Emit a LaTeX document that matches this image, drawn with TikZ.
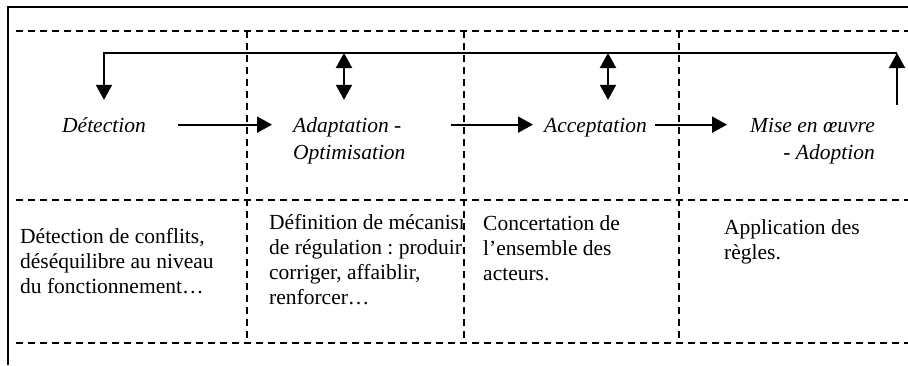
\documentclass[tikz,border=0pt]{standalone}
\usepackage{fontspec}
\setmainfont{Liberation Serif}
\frenchspacing
\usetikzlibrary{arrows.meta, positioning}

\begin{document}
\begin{tikzpicture}[x=1pt, y=-1pt,
    label/.style={inner sep=0pt, anchor=base west, align=left, font=\fontsize{21.5}{25}\selectfont},
    phase/.style={label, font=\fontsize{21.5}{27}\selectfont\itshape},
    grid/.style={dash pattern=on 7pt off 5pt, line width=1.3pt},
    frame/.style={line width=2pt},
    flow/.style={-{Triangle[length=15pt, width=16pt]}, line width=2pt},
    both/.style={{Triangle[length=15pt, width=16pt]}-{Triangle[length=15pt, width=16pt]}, line width=2pt}]
    \useasboundingbox (0,0) rectangle (908,365);

    % Frame and grid
    \draw [frame] (8,365) -- (8,7) -- (908,7);
    \foreach \y in {31,200,343} \draw [grid] (16,\y) -- (908,\y);
    \foreach \x in {247,464,679} \draw [grid] (\x,31) -- (\x,343);

    % Nodes (multi-line nodes sit on their last baseline)
    \node [phase] (det) at (62,132) {Détection};
    \node [phase] (adapt) at (293,159) {Adaptation -\\Optimisation};
    \node [phase] (accept) at (544,132) {Acceptation};
    \node [phase, anchor=base east, align=right] (mise) at (875,159) {Mise en œuvre\\- Adoption};

    % Texts
    \node [label] (txtdet) at (20,293) {Détection de conflits,\\déséquilibre au niveau\\du fonctionnement…};
    \begin{scope}
      \clip (247,200) rectangle (462,343);
      \node [label] (txtadapt) at (269,304) {Définition de mécanismes\\de régulation : produire,\\corriger, affaiblir,\\renforcer…};
    \end{scope}
    \node [label] (txtaccept) at (483,280) {Concertation de\\l’ensemble des\\acteurs.};
    \node [label] (txtmise) at (724,259) {Application des\\règles.};

    % Arrows
    \coordinate (fbR) at (897,53);
    \coordinate (upR) at (897,105);
    \coordinate (fbA) at (344,53);
    \coordinate (fbB) at (608,53);
    \draw [flow, shorten <=32pt, shorten >=21pt] (det.east) -- (det.east -| adapt.west);
    \draw [flow, shorten <=45pt, shorten >=11pt] (det.east -| adapt.east) -- (det.east -| accept.west);
    \draw [flow, shorten <=8pt, shorten >=23pt] (det.east -| accept.east) -- (det.east -| mise.west);
    \draw [flow] (upR) -- (fbR);
    \draw [flow, shorten >=17pt] (fbR) -| (det.north);
    \draw [both, shorten >=17pt] (fbA) -- (fbA |- det.north);
    \draw [both, shorten >=17pt] (fbB) -- (fbB |- det.north);

\end{tikzpicture}
\end{document}
